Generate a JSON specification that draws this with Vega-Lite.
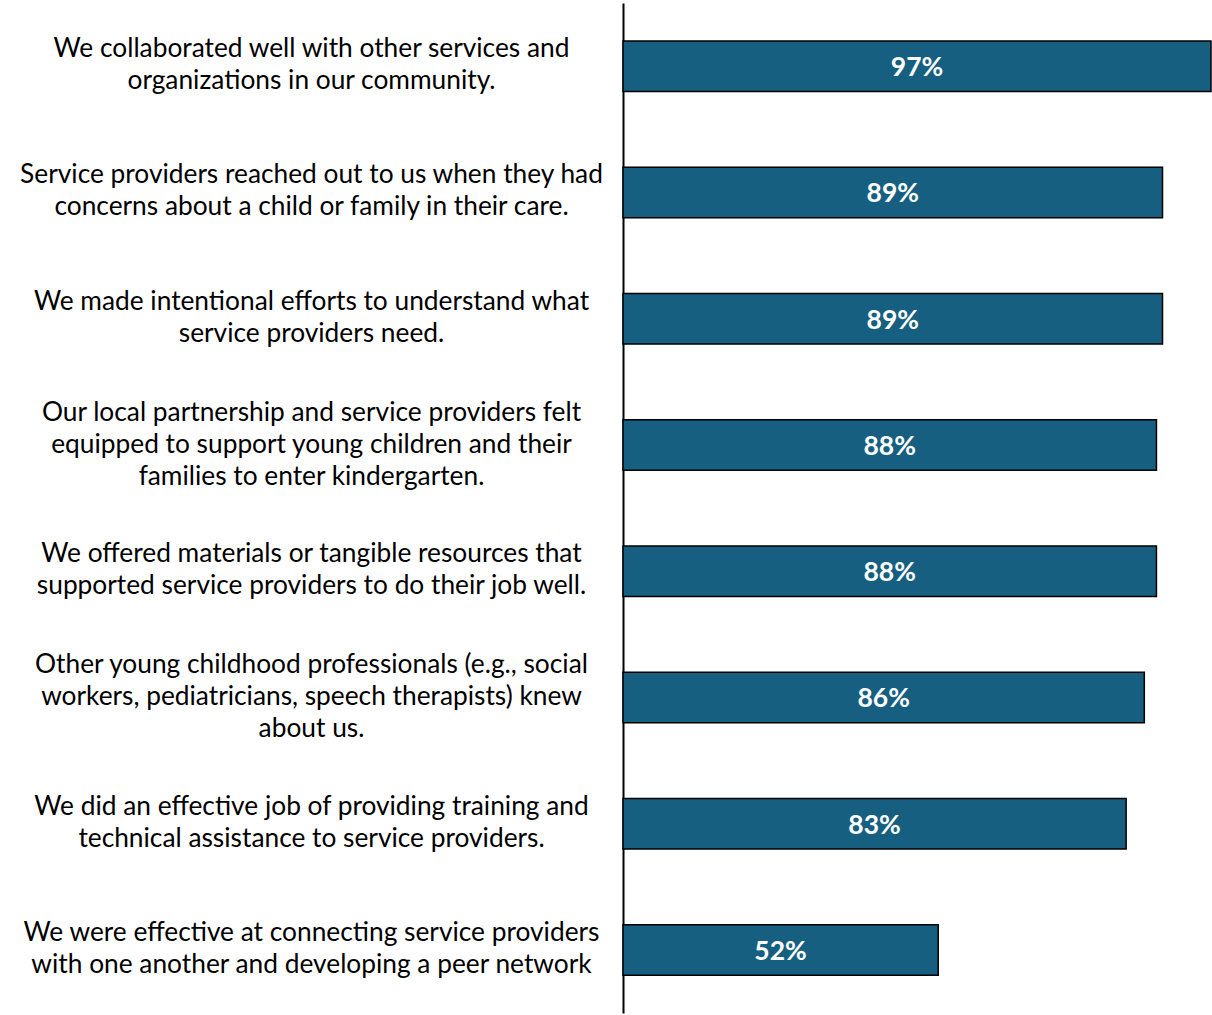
{
  "$schema": "https://vega.github.io/schema/vega-lite/v6.json",
  "autosize": {"type": "none"},
  "width": 588,
  "height": 1010,
  "padding": {"left": 623, "top": 3, "right": 1, "bottom": 2},
  "background": "white",
  "config": {"view": {"stroke": null}, "font": "Lato"},
  "data": {"values": [
    {"item": "We collaborated well with other services and|organizations in our community.", "value": 97},
    {"item": "Service providers reached out to us when they had|concerns about a child or family in their care.", "value": 89},
    {"item": "We made intentional efforts to understand what|service providers need.", "value": 89},
    {"item": "Our local partnership and service providers felt|equipped to support young children and their|families to enter kindergarten.", "value": 88},
    {"item": "We offered materials or tangible resources that|supported service providers to do their job well.", "value": 88},
    {"item": "Other young childhood professionals (e.g., social|workers, pediatricians, speech therapists) knew|about us.", "value": 86},
    {"item": "We did an effective job of providing training and|technical assistance to service providers.", "value": 83},
    {"item": "We were effective at connecting service providers|with one another and developing a peer network", "value": 52}
  ]},
  "transform": [
    {"calculate": "datum.value / 2", "as": "mid"},
    {"calculate": "datum.value + '%'", "as": "lbl"}
  ],
  "encoding": {
    "y": {
      "field": "item", "type": "nominal", "sort": null,
      "scale": {"paddingInner": 0.6, "paddingOuter": 0.3},
      "axis": {
        "title": null, "ticks": false, "labelPadding": 312,
        "labelAlign": "center", "labelBaseline": "middle",
        "labelExpr": "split(datum.value, '|')",
        "labelFont": "Lato", "labelFontSize": 26.3, "labelColor": "#000000",
        "labelLineHeight": 32, "labelLimit": 0,
        "labelOffset": {"condition": {"test": "length(split(datum.value, '|')) == 3", "value": -32}, "value": -17},
        "domainColor": "#000000", "domainWidth": 2
      }
    }
  },
  "layer": [
    {
      "mark": {"type": "bar", "fill": "#175f80", "stroke": "#000000", "strokeWidth": 1.5},
      "encoding": {
        "x": {"field": "value", "type": "quantitative", "scale": {"domain": [0, 97], "nice": false}, "axis": null}
      }
    },
    {
      "mark": {"type": "text", "color": "white", "font": "Lato", "fontSize": 26.5, "fontWeight": "bold", "baseline": "middle", "align": "center", "dy": 2},
      "encoding": {
        "x": {"field": "mid", "type": "quantitative"},
        "text": {"field": "lbl"}
      }
    }
  ]
}
